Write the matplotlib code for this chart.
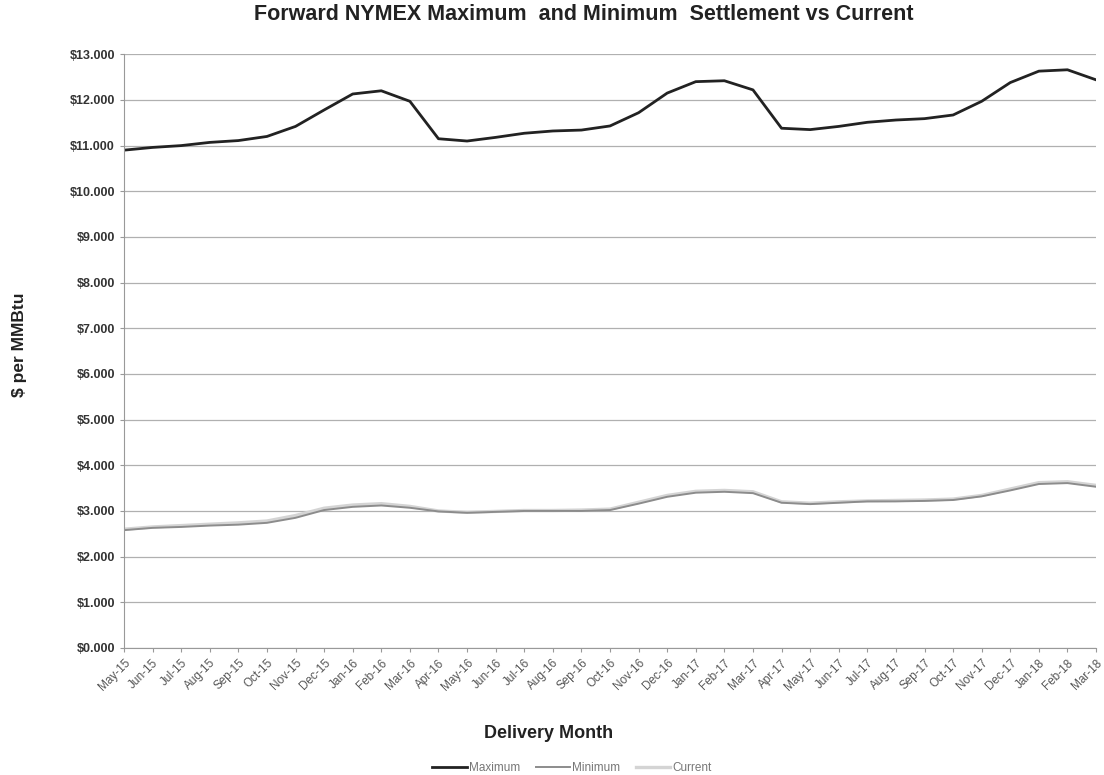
import matplotlib
matplotlib.use("Agg")
import matplotlib.pyplot as plt
from matplotlib.ticker import FuncFormatter

plt.rcParams['font.family'] = ['Liberation Sans', 'DejaVu Sans']

# delivery months, May-15 .. Mar-18
months = ['May-15', 'Jun-15', 'Jul-15', 'Aug-15', 'Sep-15', 'Oct-15', 'Nov-15', 'Dec-15',
          'Jan-16', 'Feb-16', 'Mar-16', 'Apr-16', 'May-16', 'Jun-16', 'Jul-16', 'Aug-16',
          'Sep-16', 'Oct-16', 'Nov-16', 'Dec-16', 'Jan-17', 'Feb-17', 'Mar-17', 'Apr-17',
          'May-17', 'Jun-17', 'Jul-17', 'Aug-17', 'Sep-17', 'Oct-17', 'Nov-17', 'Dec-17',
          'Jan-18', 'Feb-18', 'Mar-18']

maximum = [10.90, 10.96, 11.00, 11.07, 11.11, 11.20, 11.42, 11.78,
           12.13, 12.20, 11.97, 11.15, 11.10, 11.18, 11.27, 11.32,
           11.34, 11.43, 11.72, 12.15, 12.40, 12.42, 12.22, 11.38,
           11.35, 11.42, 11.51, 11.56, 11.59, 11.67, 11.97, 12.38,
           12.63, 12.66, 12.44]

minimum = [2.58, 2.63, 2.65, 2.68, 2.70, 2.74, 2.85, 3.02,
           3.09, 3.12, 3.07, 2.99, 2.96, 2.98, 3.00, 3.00,
           3.00, 3.02, 3.16, 3.31, 3.40, 3.42, 3.39, 3.18,
           3.15, 3.18, 3.21, 3.21, 3.22, 3.24, 3.32, 3.45,
           3.59, 3.61, 3.53]

current = [2.60, 2.65, 2.68, 2.71, 2.74, 2.78, 2.90, 3.06,
           3.13, 3.16, 3.10, 3.00, 2.97, 2.99, 3.01, 3.01,
           3.02, 3.04, 3.19, 3.34, 3.43, 3.45, 3.42, 3.20,
           3.17, 3.20, 3.22, 3.23, 3.24, 3.26, 3.34, 3.48,
           3.62, 3.64, 3.56]

fig = plt.figure(figsize=(11.04, 7.75), dpi=100)
ax = fig.add_axes([0.1123, 0.1639, 0.8805, 0.7661])

x = range(len(months))
ax.plot(x, current, color='#d4d4d4', lw=2.4, label='Current')
ax.plot(x, minimum, color='#8c8c8c', lw=1.4, label='Minimum')
ax.plot(x, maximum, color='#222222', lw=2.0, label='Maximum')

ax.set_xlim(0, len(months) - 1)
ax.set_ylim(0, 13)
ax.set_yticks(range(0, 14))
ax.yaxis.set_major_formatter(FuncFormatter(lambda v, p: '${:.3f}'.format(v)))
ax.yaxis.grid(True, color='#b0b0b0', lw=0.9)
ax.set_axisbelow(True)

ax.set_xticks(list(x))
ax.set_xticklabels(months, rotation=45, ha='right', rotation_mode='anchor',
                   fontsize=8.5, color='#555555')
for lab in ax.get_yticklabels():
    lab.set_fontsize(9)
    lab.set_fontweight('bold')
    lab.set_color('#333333')

for s in ['top', 'right']:
    ax.spines[s].set_visible(False)
ax.spines['left'].set_color('#999999')
ax.spines['left'].set_linestyle((0, (1, 1)))
ax.spines['bottom'].set_color('#999999')
ax.tick_params(axis='both', length=3, color='#999999')

fig.text(0.529, 0.981, 'Forward NYMEX Maximum  and Minimum  Settlement vs Current',
         ha='center', va='center', fontsize=15.5, fontweight='bold', color='#222222')
fig.text(0.018, 0.555, '$ per MMBtu', rotation=90, ha='center', va='center',
         fontsize=12.5, fontweight='bold', color='#222222')
fig.text(0.497, 0.054, 'Delivery Month', ha='center', va='center',
         fontsize=13, fontweight='bold', color='#222222')

handles, labels = ax.get_legend_handles_labels()
order = [2, 1, 0]
fig.legend([handles[i] for i in order], [labels[i] for i in order],
           loc='center', bbox_to_anchor=(0.518, 0.009), ncol=3, frameon=False,
           fontsize=8.5, handlelength=2.9, handletextpad=0.2, columnspacing=1.3,
           labelcolor='#777777')

fig.savefig('out.png', dpi=100)
